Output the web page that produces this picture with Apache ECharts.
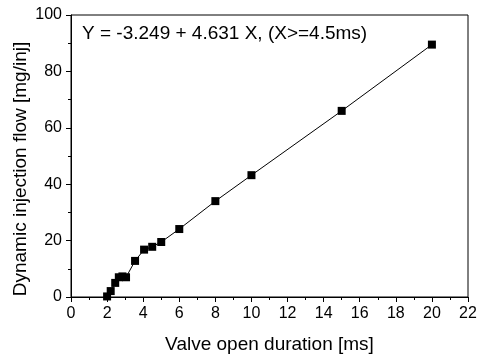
<!DOCTYPE html>
<html><head><meta charset="utf-8">
<script src="https://cdn.jsdelivr.net/npm/echarts@6/dist/echarts.min.js"></script>
<style>html,body{margin:0;padding:0;background:#fff}#c{width:486px;height:357px}</style>
</head><body><div id="c"></div>
<script>
const durations = [2.0, 2.2, 2.45, 2.65, 2.85, 3.05, 3.55, 4.05, 4.5, 5.0, 6.0, 8.0, 10.0, 15.0, 20.0];
const flows = [0.2, 2.1, 5.0, 7.0, 7.3, 7.0, 12.8, 16.8, 17.8, 19.5, 24.1, 34.0, 43.2, 66.0, 89.5];
const xTicks = [0, 2, 4, 6, 8, 10, 12, 14, 16, 18, 20, 22];
const yTicks = [0, 20, 40, 60, 80, 100];
const fitText = 'Y = -3.249 + 4.631 X, (X>=4.5ms)';
const yAxisTitle = 'Dynamic injection flow [mg/inj]';
const xAxisTitle = 'Valve open duration [ms]';

const chart = echarts.init(document.getElementById('c'), null, {renderer: 'canvas'});
const font = 'Liberation Sans, Arial, sans-serif';
chart.setOption({
  animation: false,
  backgroundColor: '#fff',
  grid: {left: 71, right: 18, top: 15, bottom: 60, containLabel: false, outerBoundsMode: 'none',
         show: true, borderColor: '#000', borderWidth: 1},
  xAxis: {
    type: 'value', min: xTicks[0], max: xTicks[xTicks.length - 1], interval: 2,
    name: xAxisTitle, nameLocation: 'middle', nameGap: 38,
    nameTextStyle: {fontFamily: font, fontSize: 19, color: '#000'},
    axisLine: {show: true, lineStyle: {color: '#000', width: 1}},
    axisTick: {show: true, inside: false, length: 5, lineStyle: {color: '#000'}},
    minorTick: {show: true, splitNumber: 2, length: 3, lineStyle: {color: '#000'}},
    axisLabel: {fontFamily: font, fontSize: 16, color: '#000', margin: 9},
    splitLine: {show: false}
  },
  yAxis: {
    type: 'value', min: yTicks[0], max: yTicks[yTicks.length - 1], interval: 20,
    axisLine: {show: true, lineStyle: {color: '#000', width: 1}},
    axisTick: {show: true, inside: false, length: 5, lineStyle: {color: '#000'}},
    minorTick: {show: true, splitNumber: 2, length: 3, lineStyle: {color: '#000'}},
    axisLabel: {fontFamily: font, fontSize: 16, color: '#000', margin: 9},
    splitLine: {show: false}
  },
  graphic: [{
    type: 'text', left: 82, top: 24,
    style: {text: fitText, font: '19px ' + font, fill: '#000'}
  }, {
    type: 'text', x: 21, y: 169, rotation: Math.PI / 2,
    style: {text: yAxisTitle, font: '19px ' + font, fill: '#000', textAlign: 'center', textVerticalAlign: 'middle'}
  }],
  series: [{
    type: 'line',
    data: durations.map((d, i) => [d, flows[i]]),
    symbol: 'rect', symbolSize: 8,
    itemStyle: {color: '#000'},
    lineStyle: {color: '#000', width: 1}
  }]
});
</script></body></html>
